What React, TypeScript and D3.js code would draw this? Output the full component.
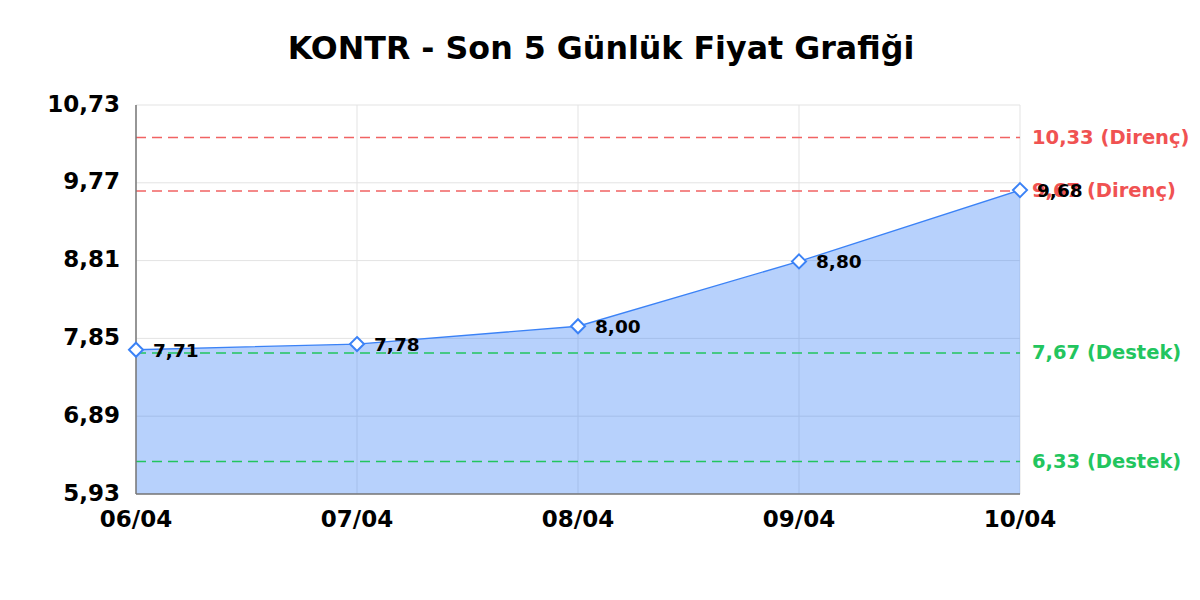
import React from 'react';
import * as d3 from 'd3';

// chart values
const dates = ['06/04', '07/04', '08/04', '09/04', '10/04'];
const prices = [7.71, 7.78, 8.0, 8.8, 9.68];
const yTicks = [5.93, 6.89, 7.85, 8.81, 9.77, 10.73];
const resistance = [10.33, 9.67];
const support = [7.67, 6.33];

const fmt = (v: number) => v.toFixed(2).replace('.', ',');

const App: React.FC = () => {
    const width = 1200;
    const height = 600;
    const margin = { top: 105, right: 180, bottom: 106, left: 136 };
    const innerW = width - margin.left - margin.right;
    const innerH = height - margin.top - margin.bottom;

    const x = d3.scalePoint<string>()
        .domain(dates)
        .range([0, innerW]);

    const y = d3.scaleLinear()
        .domain([yTicks[0], yTicks[yTicks.length - 1]])
        .range([innerH, 0]);

    const pts = dates.map((d, i) => ({ d, v: prices[i] }));

    const area = d3.area<{ d: string; v: number }>()
        .x(p => x(p.d)!)
        .y0(innerH)
        .y1(p => y(p.v));

    const line = d3.line<{ d: string; v: number }>()
        .x(p => x(p.d)!)
        .y(p => y(p.v));

    const font = '"DejaVu Sans", sans-serif';
    const red = '#f05252';
    const green = '#22c55e';
    const blue = '#3b82f6';

    return (
        <svg width={width} height={height} style={{ display: 'block', margin: '-8px', fontFamily: font }}>
            <rect width={width} height={height} fill="#fff" />
            <text x={601} y={50} textAnchor="middle" dominantBaseline="middle"
                fontSize={31.7} fontWeight="bold" fill="#000">
                KONTR - Son 5 Günlük Fiyat Grafiği
            </text>
            <g transform={`translate(${margin.left},${margin.top})`}>
                {/* grid */}
                {yTicks.map(t => (
                    <line key={'gy' + t} x1={0} x2={innerW} y1={y(t)} y2={y(t)} stroke="#e3e3e3" strokeWidth={1} />
                ))}
                {dates.map(d => (
                    <line key={'gx' + d} x1={x(d)} x2={x(d)} y1={0} y2={innerH} stroke="#e3e3e3" strokeWidth={1} />
                ))}

                {/* area + line */}
                <path d={area(pts)!} fill={blue} fillOpacity={0.37} />
                <path d={line(pts)!} fill="none" stroke={blue} strokeWidth={1.3} />

                {/* resistance / support */}
                {resistance.map(r => (
                    <g key={'r' + r}>
                        <line x1={0} x2={innerW} y1={y(r)} y2={y(r)} stroke={red} strokeOpacity={0.9}
                            strokeWidth={1.5} strokeDasharray="10,6" />
                        <text x={innerW + 12} y={y(r) + 1} dominantBaseline="middle" fontSize={19.5}
                            fontWeight="bold" fill={red}>{fmt(r)} (Direnç)</text>
                    </g>
                ))}
                {support.map(s => (
                    <g key={'s' + s}>
                        <line x1={0} x2={innerW} y1={y(s)} y2={y(s)} stroke={green}
                            strokeWidth={1.5} strokeDasharray="10,6" />
                        <text x={innerW + 12} y={y(s) + 1} dominantBaseline="middle" fontSize={19.5}
                            fontWeight="bold" fill={green}>{fmt(s)} (Destek)</text>
                    </g>
                ))}

                {/* axes */}
                <line x1={0} x2={0} y1={0} y2={innerH} stroke="#777" strokeWidth={1.5} />
                <line x1={0} x2={innerW} y1={innerH} y2={innerH} stroke="#777" strokeWidth={1.5} />
                {yTicks.map(t => (
                    <text key={'yt' + t} x={-16} y={y(t)} textAnchor="end" dominantBaseline="middle"
                        fontSize={23} fontWeight="bold" fill="#000">{fmt(t)}</text>
                ))}
                {dates.map(d => (
                    <text key={'xt' + d} x={x(d)} y={innerH + 26} textAnchor="middle" dominantBaseline="middle"
                        fontSize={23} fontWeight="bold" fill="#000">{d}</text>
                ))}

                {/* markers + labels */}
                {pts.map(p => (
                    <g key={'p' + p.d} transform={`translate(${x(p.d)},${y(p.v)})`}>
                        <path d="M0,-7L7,0L0,7L-7,0Z" fill="#fff" stroke={blue} strokeWidth={2} />
                        <text x={17} y={2} dominantBaseline="middle" fontSize={18.5} fontWeight="bold" fill="#000">
                            {fmt(p.v)}
                        </text>
                    </g>
                ))}
            </g>
        </svg>
    );
};

export default App;
